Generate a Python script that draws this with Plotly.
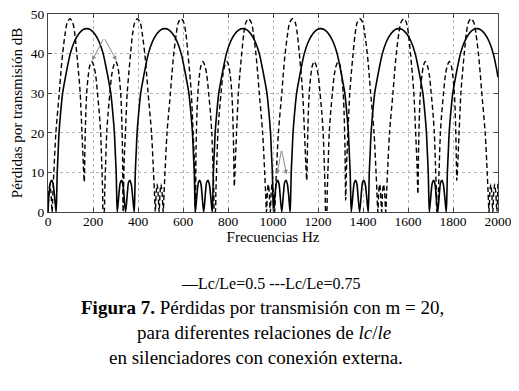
import plotly.graph_objects as go

# ---- Data ----
# Series 1: Lc/Le = 0.5 (solid)
freq_lc05 = [0, 5, 11, 17, 23, 29,
    36, 39, 41, 45, 49, 56, 65, 74, 84, 99, 117, 137, 154, 172, 190, 207, 227, 245, 260, 270, 279, 288, 295, 299, 303, 305, 308,
    316, 321, 327, 333, 338, 345, 353, 358, 364, 370, 376,
    383, 386, 388, 392, 396, 403, 412, 421, 431, 446, 464, 484, 501, 519, 537, 554, 574, 592, 607, 617, 626, 635, 642, 646, 650, 652, 655,
    663, 668, 674, 680, 685, 692, 700, 705, 711, 717, 723,
    730, 733, 735, 739, 743, 750, 759, 768, 778, 793, 811, 831, 848, 866, 884, 901, 921, 939, 954, 964, 973, 982, 989, 993, 997, 999, 1002,
    1010, 1015, 1021, 1027, 1032, 1039, 1047, 1052, 1058, 1064, 1070,
    1076, 1079, 1081, 1085, 1089, 1096, 1105, 1114, 1124, 1139, 1157, 1177, 1194, 1212, 1230, 1247, 1267, 1285, 1300, 1310, 1319, 1328, 1335, 1339, 1343, 1345, 1348,
    1356, 1361, 1367, 1373, 1378, 1385, 1393, 1398, 1404, 1410, 1416,
    1423, 1426, 1428, 1432, 1436, 1443, 1452, 1461, 1471, 1486, 1504, 1524, 1541, 1559, 1577, 1594, 1614, 1632, 1647, 1657, 1666, 1675, 1682, 1686, 1690, 1692, 1695,
    1703, 1708, 1714, 1720, 1725, 1732, 1740, 1745, 1751, 1757, 1763,
    1770, 1773, 1775, 1779, 1783, 1790, 1799, 1808, 1818, 1833, 1851, 1871, 1888, 1906, 1924, 1941, 1961, 1979, 1994, 2000]
tl_lc05 = [0, 5, 7.5, 8, 7, 4,
    0, 5, 10, 15, 20, 25, 30, 33, 36, 40, 43, 45, 46, 46.3, 46, 45, 43, 40, 36, 33, 30, 25, 20, 15, 10, 5, 0,
    5, 7.3, 8, 7, 4, 0, 5, 7.5, 8, 7, 4,
    0, 5, 10, 15, 20, 25, 30, 33, 36, 40, 43, 45, 46, 46.3, 46, 45, 43, 40, 36, 33, 30, 25, 20, 15, 10, 5, 0,
    5, 7.3, 8, 7, 4, 0, 5, 7.5, 8, 7, 4,
    0, 5, 10, 15, 20, 25, 30, 33, 36, 40, 43, 45, 46, 46.3, 46, 45, 43, 40, 36, 33, 30, 25, 20, 15, 10, 5, 0,
    5, 7.3, 8, 7, 4, 0, 5, 7.5, 8, 7, 4,
    0, 5, 10, 15, 20, 25, 30, 33, 36, 40, 43, 45, 46, 46.3, 46, 45, 43, 40, 36, 33, 30, 25, 20, 15, 10, 5, 0,
    5, 7.3, 8, 7, 4, 0, 5, 7.5, 8, 7, 4,
    0, 5, 10, 15, 20, 25, 30, 33, 36, 40, 43, 45, 46, 46.3, 46, 45, 43, 40, 36, 33, 30, 25, 20, 15, 10, 5, 0,
    5, 7.3, 8, 7, 4, 0, 5, 7.5, 8, 7, 4,
    0, 5, 10, 15, 20, 25, 30, 33, 36, 40, 43, 45, 46, 46.3, 46, 45, 43, 40, 36, 34]

# Series 2: Lc/Le = 0.75 (dashed)
freq_lc075 = [0, 4, 8, 13,
    18, 22, 26, 35, 50, 57, 65, 76, 85, 98, 110, 119, 128, 136, 143, 151, 157, 161,
    164, 168, 172, 179, 186, 194, 203, 212, 220, 228, 234, 239, 243, 246,
    249, 252, 256, 261, 267, 275, 283, 292, 301, 309, 316, 323, 327, 331, 334,
    338, 344, 352, 359, 367, 376, 385, 397, 410, 419, 430, 438, 445, 460, 469, 473, 477,
    481, 485, 489, 494, 498, 502, 507,
    512, 516, 520, 529, 544, 551, 559, 570, 579, 592, 604, 613, 622, 630, 637, 645, 651, 655,
    658, 662, 666, 673, 680, 688, 697, 706, 714, 722, 728, 733, 737, 740,
    743, 746, 750, 755, 761, 769, 777, 786, 795, 803, 810, 817, 821, 825, 828,
    832, 838, 846, 853, 861, 870, 879, 891, 904, 913, 924, 932, 939, 954, 963, 967, 971,
    975, 979, 983, 988, 992, 996, 1001,
    1007, 1011, 1015, 1024, 1039, 1046, 1054, 1065, 1074, 1087, 1099, 1108, 1117, 1125, 1132, 1140, 1146, 1150,
    1153, 1157, 1161, 1168, 1175, 1183, 1192, 1201, 1209, 1217, 1223, 1228, 1232, 1235,
    1238, 1241, 1245, 1250, 1256, 1264, 1272, 1281, 1290, 1298, 1305, 1312, 1316, 1320, 1323,
    1327, 1333, 1341, 1348, 1356, 1365, 1374, 1386, 1399, 1408, 1419, 1427, 1434, 1449, 1458, 1462, 1466,
    1470, 1474, 1478, 1483, 1487, 1491, 1496,
    1501, 1505, 1509, 1518, 1533, 1540, 1548, 1559, 1568, 1581, 1593, 1602, 1611, 1619, 1626, 1634, 1640, 1644,
    1647, 1651, 1655, 1662, 1669, 1677, 1686, 1695, 1703, 1711, 1717, 1722, 1726, 1729,
    1732, 1735, 1739, 1744, 1750, 1758, 1766, 1775, 1784, 1792, 1799, 1806, 1810, 1814, 1817,
    1821, 1827, 1835, 1842, 1850, 1859, 1868, 1880, 1893, 1902, 1913, 1921, 1928, 1943, 1952, 1956, 1960,
    1964, 1968, 1972, 1977, 1981, 1985, 1990, 1995, 2000]
tl_lc075 = [0, 5, 7, 5,
    0, 5, 10, 20, 30, 35, 40, 45, 47.8, 48.8, 47.8, 45, 40, 35, 30, 20, 12, 7.6,
    16, 25, 30, 34.5, 37, 38, 37, 34.5, 30, 25, 20, 12, 5, 0,
    0, 5, 12, 20, 25, 30, 34.5, 37, 38, 37, 34.5, 30, 25, 16, 0,
    12, 20, 30, 35, 40, 45, 47.8, 48.8, 47.8, 45, 40, 35, 30, 20, 10, 5, 0,
    5, 7, 5, 0, 5, 7, 5,
    0, 5, 10, 20, 30, 35, 40, 45, 47.8, 48.8, 47.8, 45, 40, 35, 30, 20, 12, 0,
    16, 25, 30, 34.5, 37, 38, 37, 34.5, 30, 25, 20, 12, 5, 0,
    0, 5, 12, 20, 25, 30, 34.5, 37, 38, 37, 34.5, 30, 25, 16, 6.5,
    12, 20, 30, 35, 40, 45, 47.8, 48.8, 47.8, 45, 40, 35, 30, 20, 10, 5, 0,
    5, 7, 5, 0, 5, 7, 5,
    0, 5, 10, 20, 30, 35, 40, 45, 47.8, 48.8, 47.8, 45, 40, 35, 30, 20, 12, 8,
    16, 25, 30, 34.5, 37, 38, 37, 34.5, 30, 25, 20, 12, 5, 0,
    0, 5, 12, 20, 25, 30, 34.5, 37, 38, 37, 34.5, 30, 25, 16, 3,
    12, 20, 30, 35, 40, 45, 47.8, 48.8, 47.8, 45, 40, 35, 30, 20, 10, 5, 0,
    5, 7, 5, 0, 5, 7, 5,
    0, 5, 10, 20, 30, 35, 40, 45, 47.8, 48.8, 47.8, 45, 40, 35, 30, 20, 12, 4.5,
    16, 25, 30, 34.5, 37, 38, 37, 34.5, 30, 25, 20, 12, 5, 0,
    0, 5, 12, 20, 25, 30, 34.5, 37, 38, 37, 34.5, 30, 25, 16, 8,
    12, 20, 30, 35, 40, 45, 47.8, 48.8, 47.8, 45, 40, 35, 30, 20, 10, 5, 0,
    5, 7, 5, 0, 5, 7, 5, 0, 8]

assert len(freq_lc05) == len(tl_lc05), (len(freq_lc05), len(tl_lc05))
assert len(freq_lc075) == len(tl_lc075), (len(freq_lc075), len(tl_lc075))

x_ticks = [0, 200, 400, 600, 800, 1000, 1200, 1400, 1600, 1800, 2000]
y_ticks = [0, 10, 20, 30, 40, 50]

# grey pointer arrows: (tip_x, tip_y, tail_x, tail_y)
pointer_arrows = [(196, 38.3, 249, 44), (304, 38.3, 249, 44),
                  (1018, 9.5, 1038, 15.8), (1060, 9.5, 1038, 15.8)]

SERIF = '"Liberation Serif", "Times New Roman", serif'

fig = go.Figure()
fig.add_trace(go.Scatter(x=freq_lc05, y=tl_lc05, mode="lines", name="Lc/Le=0.5",
                         line=dict(color="black", width=1.6, shape="spline", smoothing=0.8)))
fig.add_trace(go.Scatter(x=freq_lc075, y=tl_lc075, mode="lines", name="Lc/Le=0.75",
                         line=dict(color="black", width=1.4, dash="5px,3px", shape="spline", smoothing=0.8)))

annotations = []
for tx, ty, ax_, ay_ in pointer_arrows:
    annotations.append(dict(x=tx, y=ty, ax=ax_, ay=ay_, xref="x", yref="y", axref="x", ayref="y",
                            text="", showarrow=True, arrowhead=2, arrowsize=0.9, arrowwidth=1,
                            arrowcolor="#8a8a8a"))

annotations += [
    dict(text="—Lc/Le=0.5 ---Lc/Le=0.75", x=0.495, y=-0.362, xref="paper", yref="paper",
         showarrow=False, xanchor="center", yanchor="middle", font=dict(family=SERIF, size=16, color="black")),
    dict(text="<b>Figura 7.</b> Pérdidas por transmisión con m = 20,", x=0.477, y=-0.482,
         xref="paper", yref="paper", showarrow=False, xanchor="center", yanchor="middle",
         font=dict(family=SERIF, size=19, color="black")),
    dict(text="para diferentes relaciones de <i>lc</i>/<i>le</i>", x=0.479, y=-0.608,
         xref="paper", yref="paper", showarrow=False, xanchor="center", yanchor="middle",
         font=dict(family=SERIF, size=19, color="black")),
    dict(text="en silenciadores con conexión externa.", x=0.463, y=-0.733,
         xref="paper", yref="paper", showarrow=False, xanchor="center", yanchor="middle",
         font=dict(family=SERIF, size=19, color="black")),
]

# The page body has an 8px default margin, so the figure is sized/offset to compensate.
fig.update_layout(
    width=511, height=383,
    margin=dict(l=40, r=21, t=6, b=179, autoexpand=False),
    paper_bgcolor="white", plot_bgcolor="white",
    showlegend=False,
    font=dict(family=SERIF, size=13, color="black"),
    annotations=annotations,
)
fig.update_xaxes(range=[0, 2000], tickvals=x_ticks, ticktext=[str(v) for v in x_ticks],
                 showgrid=True, gridcolor="#b5b5b5", griddash="dot", gridwidth=1,
                 showline=True, mirror="ticks", linecolor="#444", linewidth=1,
                 ticks="inside", ticklen=4, tickcolor="#444", zeroline=False,
                 ticklabeloverflow="allow", ticklabelstandoff=-3,
                 tickfont=dict(family=SERIF, size=13.5, color="black"),
                 title=dict(text="Frecuencias Hz", font=dict(family=SERIF, size=15, color="black"), standoff=0))
fig.update_yaxes(range=[0, 50], tickvals=y_ticks, ticktext=[str(v) for v in y_ticks],
                 showgrid=True, gridcolor="#b5b5b5", griddash="dot", gridwidth=1,
                 showline=True, mirror="ticks", linecolor="#444", linewidth=1,
                 ticks="inside", ticklen=4, tickcolor="#444", zeroline=False,
                 ticklabeloverflow="allow",
                 tickfont=dict(family=SERIF, size=13.5, color="black"),
                 title=dict(text="Pérdidas por transmisión dB", font=dict(family=SERIF, size=15, color="black"), standoff=4))

fig.write_html("out.html")
